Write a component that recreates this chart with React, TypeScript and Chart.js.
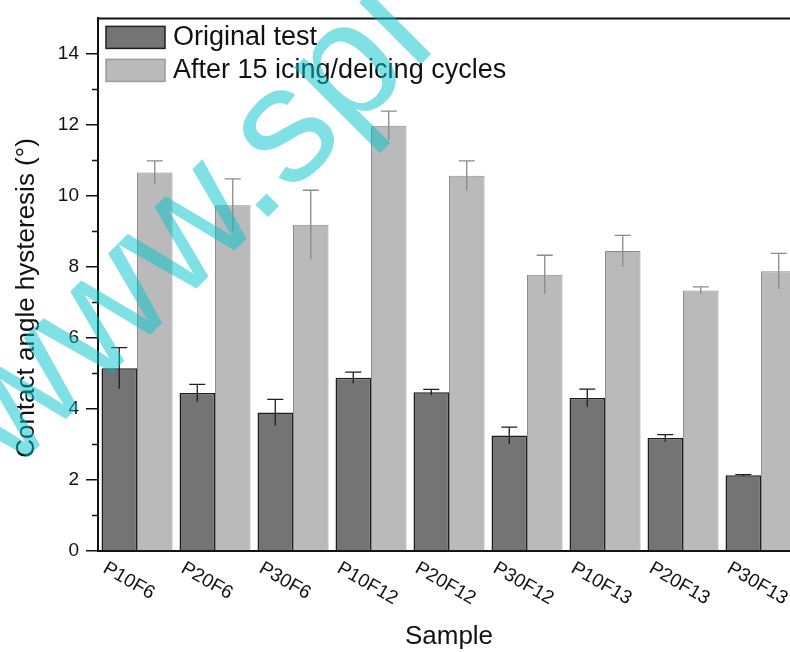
import React, { useEffect, useRef } from 'react';
import { Chart, registerables } from 'chart.js';

Chart.register(...registerables);

const categories = ['P10F6', 'P20F6', 'P30F6', 'P10F12', 'P20F12', 'P30F12', 'P10F13', 'P20F13', 'P30F13'];
const originalValues = [5.15, 4.45, 3.9, 4.88, 4.47, 3.25, 4.31, 3.18, 2.13];
const originalErrors = [0.58, 0.24, 0.37, 0.16, 0.08, 0.24, 0.25, 0.1, 0.02];
const cycledValues = [10.66, 9.74, 9.19, 11.98, 10.57, 7.78, 8.45, 7.34, 7.88];
const cycledErrors = [0.33, 0.74, 0.97, 0.41, 0.42, 0.55, 0.44, 0.1, 0.5];
const seriesLabels = ['Original test', 'After 15 icing/deicing cycles'];
const minorTickValues = [1, 3, 5, 7, 9, 11, 13];
const xTitle = 'Sample';
const yTitle = 'Contact angle hysteresis (°)';
const watermarkText = 'www.spi';

const FONT = '"Liberation Sans", Arial, Helvetica, sans-serif';
const INK = '#111111';
const DARK_FILL = '#747474';
const LIGHT_FILL = '#bababa';
const DARK_EDGE = '#1e1e1e';
const LIGHT_EDGE = '#8c8c8c';

const errorBarPlugin = {
  id: 'errorBars',
  afterDatasetsDraw(chart: any) {
    const ctx = chart.ctx;
    const y = chart.scales.y;
    const errs = [originalErrors, cycledErrors];
    const colors = [DARK_EDGE, '#8a8a8a'];
    chart.data.datasets.forEach((ds: any, di: number) => {
      const meta = chart.getDatasetMeta(di);
      meta.data.forEach((el: any, i: number) => {
        const v = ds.data[i];
        const e = errs[di][i];
        const top = y.getPixelForValue(v + e);
        const bot = y.getPixelForValue(v - e);
        ctx.save();
        ctx.strokeStyle = colors[di];
        ctx.lineWidth = 1.3;
        ctx.beginPath();
        ctx.moveTo(el.x, top);
        ctx.lineTo(el.x, bot);
        ctx.moveTo(el.x - 8, top);
        ctx.lineTo(el.x + 8, top);
        ctx.stroke();
        ctx.restore();
      });
    });
  },
};

const decorPlugin = {
  id: 'decor',
  afterDraw(chart: any) {
    const ctx = chart.ctx;
    const area = chart.chartArea;
    const xs = chart.scales.x;
    const ys = chart.scales.y;
    ctx.save();
    // top frame line
    ctx.strokeStyle = INK;
    ctx.lineWidth = 2;
    ctx.beginPath();
    ctx.moveTo(area.left - 1, area.top);
    ctx.lineTo(area.right, area.top);
    ctx.stroke();
    // minor ticks
    ctx.lineWidth = 1.5;
    minorTickValues.forEach((v) => {
      const py = Math.round(ys.getPixelForValue(v)) + 0.5;
      ctx.beginPath();
      ctx.moveTo(area.left - 6, py);
      ctx.lineTo(area.left, py);
      ctx.stroke();
    });
    // rotated category labels
    ctx.fillStyle = INK;
    ctx.font = `19px ${FONT}`;
    ctx.textAlign = 'left';
    ctx.textBaseline = 'middle';
    categories.forEach((c, i) => {
      const px = xs.getPixelForValue(i);
      ctx.save();
      ctx.translate(px - 32.5, area.bottom + 16);
      ctx.rotate(Math.PI / 6);
      ctx.fillText(c, 0, 0);
      ctx.restore();
    });
    // y title
    ctx.save();
    ctx.font = `26px ${FONT}`;
    ctx.textAlign = 'center';
    ctx.textBaseline = 'middle';
    ctx.translate(27, 298);
    ctx.rotate(-Math.PI / 2);
    ctx.fillText(yTitle, 0, 0);
    ctx.restore();
    // legend
    const fills = [DARK_FILL, LIGHT_FILL];
    const edges = [DARK_EDGE, '#9a9a9a'];
    seriesLabels.forEach((lab, i) => {
      const bx = area.left + 8;
      const by = area.top + 8 + i * 33;
      ctx.fillStyle = fills[i];
      ctx.fillRect(bx, by, 59, 22);
      ctx.strokeStyle = edges[i];
      ctx.lineWidth = 1.5;
      ctx.strokeRect(bx, by, 59, 22);
      ctx.fillStyle = INK;
      ctx.font = `27px ${FONT}`;
      ctx.textAlign = 'left';
      ctx.textBaseline = 'middle';
      ctx.fillText(lab, bx + 67, by + 11);
    });
    // watermark
    ctx.save();
    ctx.translate(11, 474);
    ctx.rotate(-Math.PI / 4);
    ctx.font = `165px ${FONT}`;
    ctx.fillStyle = 'rgba(0, 195, 205, 0.5)';
    ctx.textAlign = 'left';
    ctx.textBaseline = 'alphabetic';
    ctx.fillText(watermarkText, 0, 0);
    ctx.restore();
    ctx.restore();
  },
};

export default function App() {
  const ref = useRef<HTMLCanvasElement | null>(null);
  useEffect(() => {
    if (!ref.current) return;
    const chart = new Chart(ref.current, {
      type: 'bar',
      data: {
        labels: categories,
        datasets: [
          {
            label: seriesLabels[0],
            data: originalValues,
            backgroundColor: DARK_FILL,
            borderColor: DARK_EDGE,
            borderWidth: 1.5,
            categoryPercentage: 0.91,
            barPercentage: 1,
          },
          {
            label: seriesLabels[1],
            data: cycledValues,
            backgroundColor: LIGHT_FILL,
            borderColor: LIGHT_EDGE,
            borderWidth: 1,
            categoryPercentage: 0.91,
            barPercentage: 1,
          },
        ],
      },
      options: {
        responsive: false,
        animation: false,
        layout: { padding: { top: 9, right: 0, bottom: 0, left: 0 } },
        plugins: { legend: { display: false }, tooltip: { enabled: false }, title: { display: false } },
        scales: {
          x: {
            type: 'category',
            offset: true,
            grid: { display: false },
            border: { display: true, color: INK, width: 2 },
            ticks: { display: false },
            title: { display: true, text: xTitle, color: INK, font: { size: 26, family: FONT }, padding: { top: 0, bottom: 0 } },
            afterFit: (s: any) => { s.height = 101; },
          },
          y: {
            min: 0,
            max: 15,
            ticks: { stepSize: 2, includeBounds: false, color: INK, padding: 7, font: { size: 19, family: FONT } },
            grid: { display: true, drawOnChartArea: false, drawTicks: true, tickLength: 12, color: INK, lineWidth: 1.5 },
            border: { display: true, color: INK, width: 2 },
            afterFit: (s: any) => { s.width = 98; },
          },
        },
      },
      plugins: [errorBarPlugin, decorPlugin],
    } as any);
    return () => chart.destroy();
  }, []);
  return (
    <div style={{ position: 'fixed', left: 0, top: 0, width: 790, height: 652, overflow: 'hidden', background: '#fff' }}>
      <canvas ref={ref} width={800} height={652} style={{ display: 'block' }} />
    </div>
  );
}
